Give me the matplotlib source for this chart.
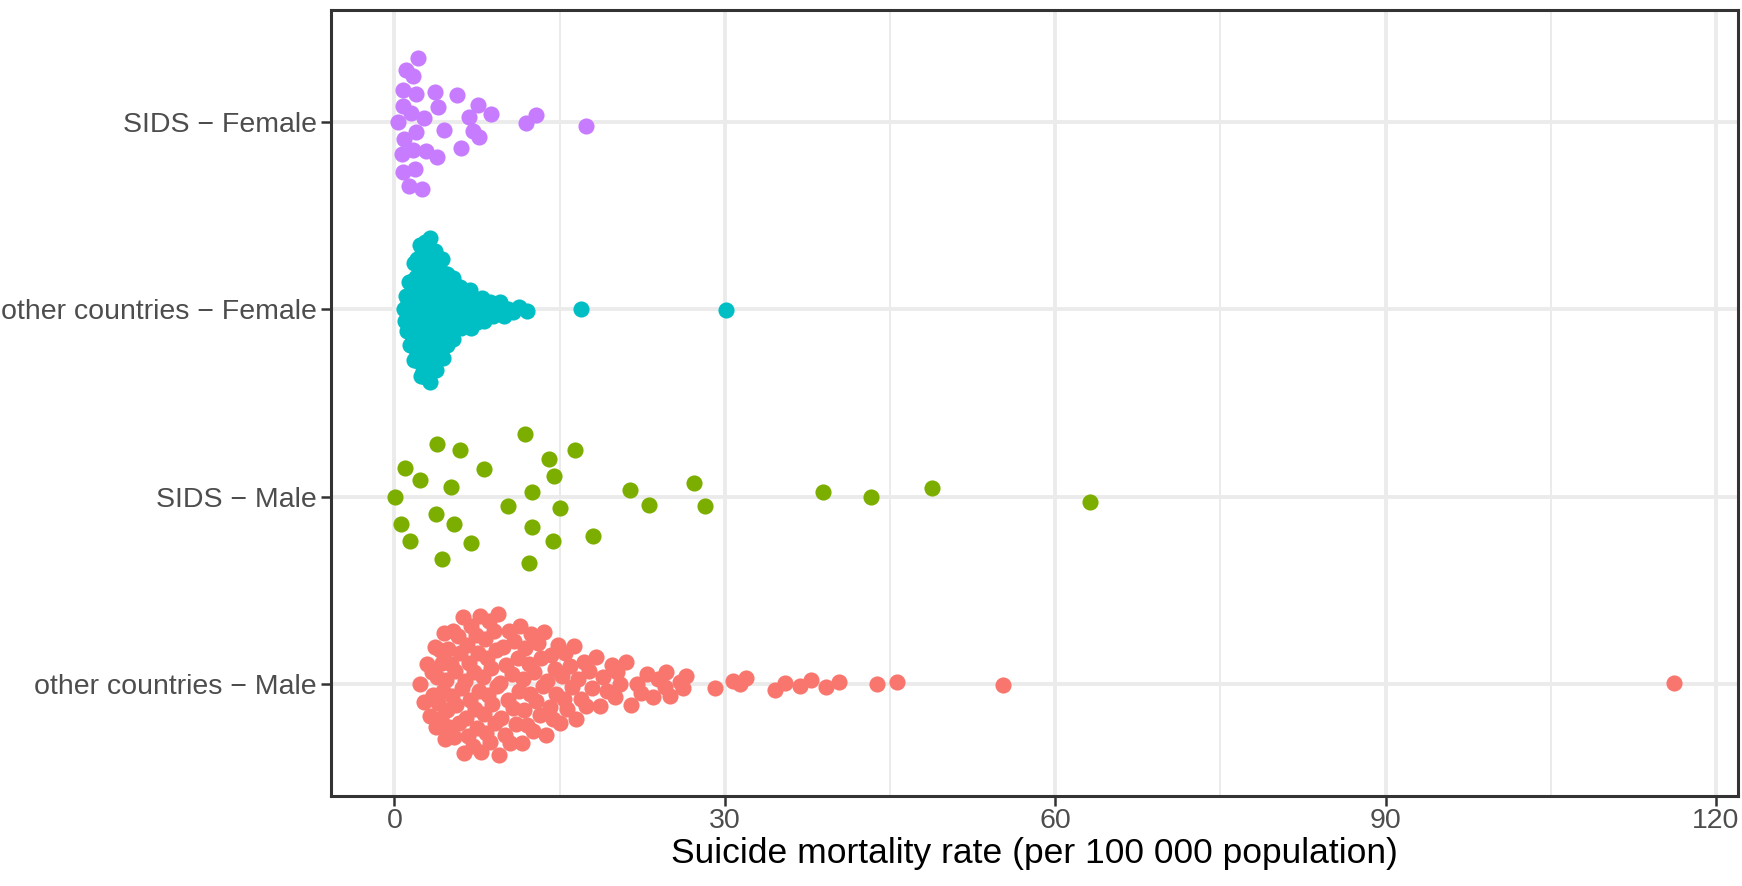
import numpy as np
import matplotlib
matplotlib.use('Agg')
from matplotlib import pyplot as plt
from matplotlib.ticker import FixedLocator

plt.rcParams['font.family'] = ['Liberation Sans', 'DejaVu Sans']

labels = ['other countries − Male', 'SIDS − Male', 'other countries − Female', 'SIDS − Female']
colors = ['#F8766D', '#7CAE00', '#00BFC4', '#C77CFF']
xticks = [0, 30, 60, 90, 120]
xminor = [15, 45, 75, 105]
xtitle = 'Suicide mortality rate (per 100 000 population)'

other_male = [2.3, 2.7, 3.0, 3.2, 3.4, 3.5, 3.7, 3.8, 3.9, 4.0,
              4.1, 4.2, 4.3, 4.4, 4.5, 4.6, 4.7, 4.8, 4.9, 5.0, 5.1, 5.2, 5.3, 5.4, 5.5, 5.6, 5.8, 5.9,
              6.0, 6.1, 6.2, 6.3, 6.4, 6.5, 6.6, 6.7, 6.8, 6.9, 7.0, 7.1, 7.2, 7.3, 7.4, 7.5, 7.6, 7.7, 7.8, 7.9,
              8.0, 8.1, 8.2, 8.3, 8.4, 8.5, 8.6, 8.7, 8.8, 8.9, 9.0, 9.1, 9.2, 9.3, 9.4, 9.5, 9.6, 9.7, 9.9,
              10.0, 10.1, 10.3, 10.4, 10.5, 10.7, 10.8, 10.9, 11.0, 11.2, 11.3, 11.4, 11.6, 11.7, 11.8, 11.9,
              12.0, 12.2, 12.3, 12.4, 12.6, 12.7, 12.9, 13.0, 13.2, 13.3, 13.5, 13.6, 13.8, 13.9,
              14.1, 14.2, 14.4, 14.6, 14.7, 14.9, 15.0, 15.2, 15.4, 15.5, 15.7, 15.9,
              16.1, 16.3, 16.5, 16.7, 16.9, 17.2, 17.4, 17.7, 17.9,
              18.3, 18.7, 18.9, 19.3, 19.8, 20.0,
              20.2, 20.5, 21.0, 21.5, 22.0,
              22.4, 22.9, 23.5, 23.9,
              24.6, 24.7, 25.0, 25.9, 26.2, 26.5,
              29.1, 30.75, 31.4, 31.9, 34.6, 35.5, 36.8, 37.8, 39.2, 40.4, 43.8, 45.6, 55.3, 116.2]

sids_male = [0.05, 0.6, 1.0, 1.4, 2.3, 3.8, 3.9, 4.3, 5.1, 5.4, 6.0, 7.0, 8.1, 10.3, 11.85, 12.2,
             12.5, 12.5, 14.0, 14.4, 14.5, 15.0, 16.4, 18.0, 21.4, 23.1, 27.2, 28.2, 38.9, 43.3, 48.8, 63.2]

other_female = [0.87, 0.96, 1.04, 1.12, 1.19, 1.28, 1.36, 1.45,
                1.51, 1.57, 1.6, 1.66, 1.69, 1.75, 1.79, 1.82, 1.88, 1.9, 1.94, 1.99,
                2.01, 2.06, 2.08, 2.13, 2.15, 2.19, 2.21, 2.26, 2.28, 2.32, 2.35, 2.38, 2.4, 2.43, 2.47, 2.49,
                2.52, 2.54, 2.55, 2.59, 2.62, 2.63, 2.67, 2.7, 2.71, 2.75, 2.78, 2.8, 2.82, 2.86, 2.89, 2.9, 2.93, 2.98,
                3.0, 3.04, 3.07, 3.08, 3.11, 3.15, 3.18, 3.19, 3.24, 3.25, 3.29, 3.32, 3.33, 3.38, 3.41, 3.42, 3.47, 3.5,
                3.53, 3.56, 3.58, 3.63, 3.65, 3.7, 3.73, 3.75, 3.8, 3.83, 3.85, 3.9, 3.93, 3.96, 3.99,
                4.04, 4.07, 4.12, 4.17, 4.23, 4.26, 4.32, 4.35, 4.4, 4.47, 4.51, 4.54, 4.61, 4.64, 4.71, 4.74, 4.81, 4.85, 4.92, 4.96,
                5.03, 5.13, 5.19, 5.28, 5.34, 5.44, 5.51, 5.58, 5.69, 5.76, 5.86, 5.93,
                6.06, 6.15, 6.28, 6.37, 6.49, 6.62, 6.71, 6.85, 6.94,
                7.09, 7.21, 7.37, 7.49, 7.65, 7.78, 7.94,
                8.12, 8.28, 8.51, 8.69, 8.92,
                9.14, 9.42, 9.63, 9.91,
                10.3, 10.8, 11.3, 12.0, 16.9, 30.1]

sids_female = [0.35, 0.66, 0.75, 0.78, 0.81, 0.84, 1.05, 1.35, 1.48, 1.66, 1.72, 1.87, 1.93, 1.96, 2.11, 2.48,
               2.69, 2.87, 3.68, 3.84, 3.98, 4.50, 5.65, 6.04, 6.80, 7.16, 7.61, 7.70, 8.74, 11.94, 12.82, 17.39]

groups = [other_male, sids_male, other_female, sids_female]


def van_der_corput(n, base=2):
    out = []
    for i in range(1, n + 1):
        v, denom, k = 0.0, 1.0, i
        while k > 0:
            denom *= base
            k, r = divmod(k, base)
            v += r / denom
        out.append(v)
    return np.array(out)


def bw_nrd0(x):
    hi = np.std(x, ddof=1)
    q75, q25 = np.percentile(x, [75, 25])
    lo = min(hi, (q75 - q25) / 1.34)
    if lo == 0:
        lo = hi or abs(x[0]) or 1.0
    return 0.9 * lo * len(x) ** -0.2


# quasirandom offsets (van der Corput by rank, scaled by kde)
def quasirandom(x, width=0.4):
    x = np.asarray(x, float)
    n = len(x)
    bw = bw_nrd0(x)
    grid = np.linspace(x.min() - 3 * bw, x.max() + 3 * bw, 1024)
    dens = np.exp(-0.5 * ((grid[:, None] - x[None, :]) / bw) ** 2).sum(axis=1)
    dens = dens / dens.max()
    d = np.interp(x, grid, dens)
    rank = np.empty(n, int)
    rank[np.argsort(x, kind='stable')] = np.arange(n)
    return (van_der_corput(n)[rank] - 0.5) * 2 * d * width


fig = plt.figure(figsize=(17.42, 8.86), dpi=100)
ax = fig.add_axes([331 / 1742, 1 - 796 / 886, (1738 - 331) / 1742, (796 - 10) / 886])

for i, vals in enumerate(groups):
    offs = quasirandom(vals)
    ax.scatter(vals, i + 1 + offs, s=135, color=colors[i], linewidths=0, zorder=3)

allv = np.concatenate([np.asarray(g, float) for g in groups])
lo, hi = allv.min(), allv.max()
pad = 0.05 * (hi - lo)
ax.set_xlim(lo - pad, hi + pad)
ax.set_ylim(0.4, 4.6)

ax.set_yticks([1, 2, 3, 4])
ax.set_yticklabels(labels)
ax.set_xticks(xticks)
ax.xaxis.set_minor_locator(FixedLocator(xminor))

ax.set_axisbelow(True)
ax.grid(which='major', color='#EBEBEB', linewidth=2.8)
ax.grid(which='minor', axis='x', color='#EBEBEB', linewidth=1.4)

for s in ax.spines.values():
    s.set_color('#333333')
    s.set_linewidth(2.2)

ax.tick_params(which='major', length=7, width=1.8, color='#333333', labelsize=20.5, labelcolor='#4D4D4D', pad=3)
ax.tick_params(axis='x', which='major', pad=2)
ax.tick_params(which='minor', length=0)
ax.set_xlabel(xtitle, fontsize=25.5, color='black', labelpad=2)

fig.savefig('out.png', dpi=100)
